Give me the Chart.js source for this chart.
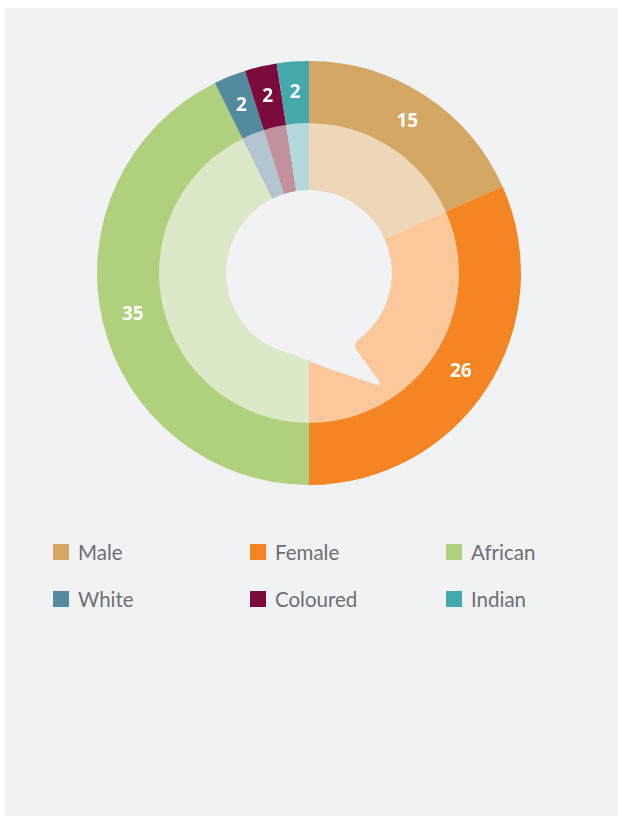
<!DOCTYPE html>
<html>
<head>
<meta charset="utf-8">
<script src="https://cdn.jsdelivr.net/npm/chart.js@4/dist/chart.umd.min.js"></script>
<style>
  body { margin: 0; background: #fff; width: 618px; height: 816px; overflow: hidden; position: relative; }
  .panel { position: absolute; left: 5px; top: 8px; width: 613px; height: 808px; background: #f1f2f4; }
  .chart-box { position: absolute; left: 97px; top: 61px; width: 424px; height: 424px; }
  .legend { position: absolute; left: 53px; top: 540px; display: grid; grid-template-columns: 197px 196px 150px; grid-auto-rows: 47px; }
  .legend-item { display: flex; align-items: center; height: 24px; font-family: Lato, "Noto Sans", sans-serif; font-weight: 400; font-size: 20.5px; color: #6e6f73; }
  .legend-item span.box { width: 16px; height: 16px; margin-right: 9px; flex: none; }
</style>
</head>
<body>
<div class="panel"></div>
<div class="chart-box"><canvas id="genderRace"></canvas></div>
<div class="legend" id="legend"></div>
<script>
const categories = ['Male', 'Female', 'African', 'White', 'Coloured', 'Indian'];
const counts = [15, 26, 35, 2, 2, 2];
const strongColors = ['#d4a764', '#f58522', '#b0d07e', '#548a9e', '#7b0b3c', '#45a8aa'];
const lightColors = ['#edd7b8', '#fbc89c', '#dce9c9', '#b3c5d0', '#c2929c', '#b4d9dc'];
const panelColor = '#f1f2f4';

// speech bubble over the hole, same colour as the panel
const bubblePlugin = {
  id: 'bubble',
  afterDatasetsDraw(chart) {
    const arc = chart.getDatasetMeta(1).data[0];
    if (!arc) return;
    const { x: cx, y: cy, innerRadius: r } = arc.getProps(['x', 'y', 'innerRadius'], true);
    const k = r / 83;
    const ctx = chart.ctx;
    const deg = Math.PI / 180;
    ctx.save();
    ctx.fillStyle = panelColor;
    ctx.beginPath();
    ctx.arc(cx, cy, r, 121 * deg, 411 * deg);
    ctx.quadraticCurveTo(cx + 42 * k, cy + 72 * k, cx + 49 * k, cy + 79 * k);
    ctx.lineTo(cx + 70 * k, cy + 108 * k);
    ctx.quadraticCurveTo(cx + 73 * k, cy + 114 * k, cx + 67 * k, cy + 112 * k);
    ctx.lineTo(cx + 20 * k, cy + 96 * k);
    ctx.closePath();
    ctx.fill();
    ctx.restore();
  }
};

// white value labels on the outer ring
const valueLabels = {
  id: 'valueLabels',
  afterDatasetsDraw(chart) {
    const ctx = chart.ctx;
    const meta = chart.getDatasetMeta(0);
    ctx.save();
    ctx.fillStyle = '#ffffff';
    ctx.font = 'bold 19px "Open Sans", sans-serif';
    ctx.textAlign = 'center';
    ctx.textBaseline = 'middle';
    meta.data.forEach((arc, i) => {
      const p = arc.tooltipPosition();
      ctx.fillText(String(counts[i]), p.x, p.y);
    });
    ctx.restore();
  }
};

const chart = new Chart(document.getElementById('genderRace'), {
  type: 'doughnut',
  data: {
    labels: categories,
    datasets: [
      { data: counts, backgroundColor: strongColors, borderWidth: 0, weight: 62 },
      { data: counts, backgroundColor: lightColors, borderWidth: 0, weight: 67 }
    ]
  },
  options: {
    responsive: true,
    maintainAspectRatio: false,
    animation: false,
    cutout: '39%',
    layout: { padding: 0 },
    plugins: { legend: { display: false }, tooltip: { enabled: false } }
  },
  plugins: [bubblePlugin, valueLabels]
});

document.getElementById('legend').innerHTML = categories.map((label, i) =>
  `<div class="legend-item"><span class="box" style="background:${strongColors[i]}"></span>${label}</div>`).join('');
</script>
</body>
</html>
